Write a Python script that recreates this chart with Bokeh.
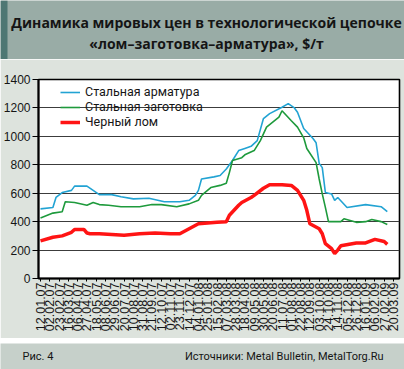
from bokeh.plotting import figure
from bokeh.models import Range1d, FixedTicker, Legend, LegendItem, Label, BoxAnnotation
from bokeh.layouts import column
from bokeh.embed import file_html
from bokeh.resources import INLINE
from math import pi

# ---- data (x = weeks since 12.01.2007) ----
tick_labels = ["12.01.07", "02.02.07", "23.02.07", "16.03.07", "06.04.07", "27.04.07",
               "18.05.07", "08.06.07", "29.06.07", "20.07.07", "10.08.07", "31.08.07",
               "21.09.07", "12.10.07", "02.11.07", "23.11.07", "14.12.07", "04.01.08",
               "25.01.08", "15.02.08", "07.03.08", "28.03.08", "18.04.08", "09.05.08",
               "30.05.08", "20.06.08", "11.07.08", "01.08.08", "22.08.08", "12.09.08",
               "03.10.08", "24.10.08", "14.11.08", "05.12.08", "26.12.08", "16.01.09",
               "06.02.09", "27.02.09", "20.03.09"]
tick_step_weeks = 3

rebar_weeks = [0, 4, 5, 7, 10, 11, 15, 17, 19, 23, 26, 30, 35, 40, 45, 48, 50, 51, 52, 56,
               58, 60, 62, 64, 66, 68, 70, 72, 74, 78, 80, 82, 83, 85, 88, 89, 90, 91, 92,
               94, 95, 96, 99, 105, 110, 112]
rebar_price = [490, 500, 570, 605, 620, 650, 650, 620, 590, 590, 575, 560, 565, 540, 540,
               550, 585, 620, 700, 715, 725, 770, 830, 900, 915, 930, 970, 1125, 1160, 1205,
               1230, 1200, 1170, 1055, 985, 955, 810, 780, 605, 595, 550, 570, 500, 520, 505,
               470]

billet_weeks = [0, 4, 7, 8, 11, 15, 17, 19, 22, 26, 32, 36, 39, 44, 48, 51, 52, 55, 58, 60,
                61, 62, 65, 66, 69, 71, 73, 75, 77, 78, 81, 83, 85, 86, 89, 90, 91, 92, 93,
                97, 98, 102, 105, 107, 110, 112]
billet_price = [425, 460, 470, 540, 535, 515, 535, 520, 515, 505, 505, 520, 520, 505, 525,
                550, 585, 640, 655, 670, 745, 830, 850, 870, 900, 970, 1065, 1100, 1135, 1180,
                1110, 1065, 990, 915, 815, 700, 595, 500, 400, 400, 420, 395, 400, 415, 400,
                380]

scrap_weeks = [0, 4, 7, 10, 11, 14, 15, 16, 19, 27, 32, 37, 42, 45, 48, 51, 57, 60, 61, 64,
               65, 68, 69, 72, 74, 78, 81, 83, 85, 86, 87, 90, 91, 92, 94, 95, 96, 97, 102,
               105, 108, 111, 112]
scrap_price = [265, 290, 300, 325, 345, 345, 320, 315, 315, 305, 315, 320, 315, 315, 350,
               385, 395, 400, 445, 515, 535, 570, 585, 635, 660, 660, 655, 620, 550, 480, 385,
               350, 315, 245, 210, 175, 200, 230, 250, 250, 275, 260, 240]

y_ticks = [0, 200, 400, 600, 800, 1000, 1200, 1400]
series_names = ["Стальная арматура", "Стальная заготовка", "Черный лом"]

title_lines = ["Динамика мировых цен в технологической цепочке",
               "«лом–заготовка–арматура», $/т"]
footer_left = "Рис. 4"
footer_right = "Источники: Metal Bulletin, MetalTorg.Ru"

# ---- styles ----
W = 404
BAND = "#99aca6"
STRIP = "#4e7773"
PANEL = "#dde3dd"
FOOT = "#c6d0ca"
TXT = "#151515"


def deco_fig(h, color):
    f = figure(width=W, height=h, x_range=Range1d(0, W), y_range=Range1d(0, h),
               x_axis_type=None, y_axis_type=None, toolbar_location=None,
               output_backend="svg", min_border=0, frame_align=False)
    f.grid.visible = False
    f.outline_line_color = None
    f.background_fill_color = color
    f.border_fill_color = color
    return f


# ---- title band ----
TH = 59
tf = deco_fig(TH, BAND)
tf.add_layout(BoxAnnotation(left=0, right=7, bottom=0, top=TH, fill_color=STRIP,
                            fill_alpha=1, line_color=None))
for txt, yy in zip(title_lines, [TH - 22, TH - 43]):
    tf.add_layout(Label(x=206, y=yy, text=txt, text_align="center", text_baseline="middle",
                        text_font="Open Sans", text_font_style="bold",
                        text_font_size="14px", text_color=TXT))

# ---- main chart ----
tick_pos = [i * tick_step_weeks for i in range(len(tick_labels))]
p = figure(width=W, height=279, x_range=Range1d(-0.65, 115.94), y_range=Range1d(0, 1400),
           toolbar_location=None, output_backend="svg", frame_align=False,
           min_border_left=38, min_border_right=5, min_border_top=20, min_border_bottom=60)
p.background_fill_color = "white"
p.border_fill_color = PANEL
p.outline_line_color = "black"
p.outline_line_width = 1.6

p.xaxis.ticker = FixedTicker(ticks=tick_pos)
p.xaxis.major_label_overrides = {t: s for t, s in zip(tick_pos, tick_labels)}
p.xaxis.major_label_orientation = pi / 2
p.xaxis.major_label_text_font = "Liberation Sans"
p.xaxis.major_label_text_font_size = "12.5px"
p.xaxis.major_label_text_color = TXT
p.xaxis.major_label_standoff = 1
p.xaxis.major_tick_out = 3
p.xaxis.major_tick_in = 0
p.xaxis.minor_tick_line_color = None
p.xaxis.axis_line_width = 2
p.xaxis.axis_line_color = "black"
p.xaxis.major_tick_line_color = "black"

p.yaxis.ticker = FixedTicker(ticks=y_ticks)
p.yaxis.major_label_text_font = "Liberation Sans"
p.yaxis.major_label_text_font_size = "12px"
p.yaxis.major_label_text_color = TXT
p.yaxis.major_label_standoff = 2
p.yaxis.major_tick_out = 6
p.yaxis.major_tick_in = 0
p.yaxis.minor_tick_line_color = None
p.yaxis.axis_line_width = 2
p.yaxis.axis_line_color = "black"
p.yaxis.major_tick_line_color = "black"

p.xgrid.visible = False
p.ygrid.ticker = FixedTicker(ticks=y_ticks)
p.ygrid.grid_line_color = "#3c3c3c"
p.ygrid.grid_line_width = 1

r1 = p.line(rebar_weeks, rebar_price, line_color="#22a3d3", line_width=1.6)
r2 = p.line(billet_weeks, billet_price, line_color="#1e9a3c", line_width=1.6)
r3 = p.line(scrap_weeks, scrap_price, line_color="#ff1414", line_width=3.5)

legend = Legend(items=[LegendItem(label=series_names[0], renderers=[r1]),
                       LegendItem(label=series_names[1], renderers=[r2]),
                       LegendItem(label=series_names[2], renderers=[r3])],
                location=(22, 149), margin=0, padding=0, spacing=0,
                label_height=14, glyph_height=14, glyph_width=20, label_standoff=5,
                label_text_font="Roboto", label_text_font_size="12.5px",
                label_text_color=TXT, border_line_color=None, background_fill_alpha=0)
p.add_layout(legend)

# ---- white gap ----
gf = deco_fig(5, "white")

# ---- footer ----
FH = 26
ff = deco_fig(FH, FOOT)
ff.add_layout(Label(x=22, y=FH - 13, text=footer_left, text_align="left",
                    text_baseline="middle", text_font="Roboto", text_font_size="11px",
                    text_color=TXT))
ff.add_layout(Label(x=383, y=FH - 13, text=footer_right, text_align="right",
                    text_baseline="middle", text_font="Roboto", text_font_size="11px",
                    text_color=TXT))

layout = column(tf, p, gf, ff, spacing=0)
open("out.html", "w").write(file_html(layout, INLINE))
